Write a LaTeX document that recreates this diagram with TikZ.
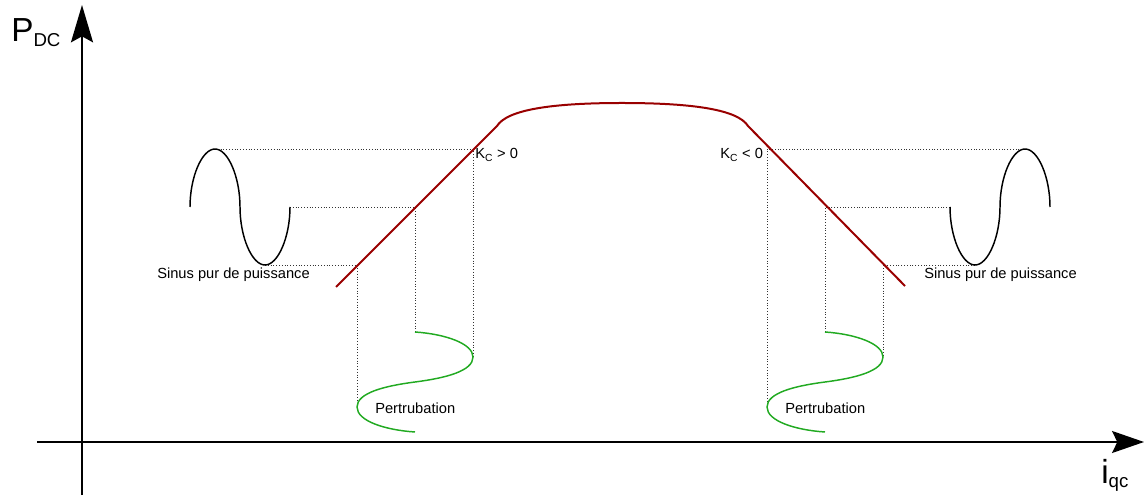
\documentclass[tikz,border=0pt]{standalone}
\usepackage{fontspec}
\setmainfont{Liberation Sans}
\usetikzlibrary{arrows.meta}
\definecolor{curvered}{RGB}{153,0,0}
\definecolor{pertgreen}{RGB}{34,170,34}
\tikzset{
  axisline/.style={line width=1.5pt, draw=black},
  sineline/.style={line width=1.1pt, draw=black},
  charline/.style={line width=1.5pt, draw=curvered},
  pertline/.style={line width=1.1pt, draw=pertgreen},
  guide/.style={line width=0.7pt, draw=black!80, dash pattern=on 0.7pt off 1.4pt},
  lbl/.style={inner sep=0pt, font=\fontsize{11}{13}\selectfont},
}
\begin{document}
\begin{tikzpicture}[x=0.75pt, y=-0.75pt]
\useasboundingbox (0,0) rectangle (1144,498);
% axes
\coordinate (ybot) at (82,495);
\coordinate (ytop) at (82,5);
\coordinate (xleft) at (37,442);
\coordinate (xright) at (1144,442);
\draw[axisline, -{Stealth[length=28pt, width=16.5pt, inset=4.5pt]}] (ybot) -- (ytop);
\draw[axisline, -{Stealth[length=24pt, width=16.5pt, inset=4pt]}] (xleft) -- (xright);
\node[inner sep=0pt, anchor=base west, font=\fontsize{25}{28}\selectfont] (pdc) at (11,42) {P\textsubscript{\fontsize{14}{16}\selectfont DC}};
\node[inner sep=0pt, anchor=base west, font=\fontsize{25}{28}\selectfont] (iqc) at (1101,483) {i\textsubscript{\fontsize{14}{16}\selectfont qc}};

% guide lines (left)
\coordinate (lpk) at (215,149);
\coordinate (lmid) at (290,207);
\coordinate (ltr) at (265,265);
\coordinate (la) at (473,149);
\coordinate (lb) at (415,207);
\coordinate (lc) at (357,265);
\coordinate (la2) at (473,357);
\coordinate (lb2) at (415,332);
\coordinate (lc2) at (357,407);
\draw[guide] (lpk) -- (la) -- (la2);
\draw[guide] (lmid) -- (lb) -- (lb2);
\draw[guide] (ltr) -- (lc) -- (lc2);
% guide lines (right)
\coordinate (rpk) at (1025,149);
\coordinate (rmid) at (950,207);
\coordinate (rtr) at (975,265);
\coordinate (ra) at (767,149);
\coordinate (rb) at (825,207);
\coordinate (rc) at (883,265);
\coordinate (ra2) at (767,407);
\coordinate (rb2) at (825,332);
\coordinate (rc2) at (883,357);
\draw[guide] (rpk) -- (ra) -- (ra2);
\draw[guide] (rmid) -- (rb) -- (rb2);
\draw[guide] (rtr) -- (rc) -- (rc2);

% sine waves
\draw[sineline] (190,207) .. controls (190,177) and (202,149) .. (lpk)
  .. controls (228,149) and (240,177) .. (240,207)
  .. controls (240,237) and (252,265) .. (ltr)
  .. controls (278,265) and (290,237) .. (lmid);
\draw[sineline] (rmid) .. controls (950,237) and (962,265) .. (rtr)
  .. controls (988,265) and (1000,237) .. (1000,207)
  .. controls (1000,177) and (1012,149) .. (rpk)
  .. controls (1038,149) and (1050,177) .. (1050,207);

% characteristic curve
\coordinate (c1) at (336,287);
\coordinate (c2) at (497,126);
\coordinate (c3) at (748,126);
\coordinate (c4) at (905,286);
\draw[charline, line join=round] (c1) -- (c2) .. controls (507,110) and (550,103) .. (622,103)
  .. controls (695,103) and (738,110) .. (c3) -- (c4);

% perturbations
\draw[pertline] (lb2) .. controls (445,334) and (473,343.5) .. (la2)
  .. controls (473,371) and (446,378) .. (415,382)
  .. controls (384,386) and (357,393) .. (lc2)
  .. controls (357,421) and (385,430) .. (415,432);
\draw[pertline] (rb2) .. controls (855,334) and (883,343.5) .. (rc2)
  .. controls (883,371) and (856,378) .. (825,382)
  .. controls (794,386) and (767,393) .. (ra2)
  .. controls (767,421) and (795,430) .. (825,432);

% labels
\node[lbl, anchor=base west] (sinl) at (157,279) {Sinus pur de puissance};
\node[lbl, anchor=base west] (sinr) at (924,279) {Sinus pur de puissance};
\node[lbl, anchor=base west] (pertl) at (375,413) {Pertrubation};
\node[lbl, anchor=base west] (pertr) at (785,413) {Pertrubation};
\node[lbl, anchor=base west] (kpos) at (475,159) {K\textsubscript{C} > 0};
\node[lbl, anchor=base west] (kneg) at (720,159) {K\textsubscript{C} < 0};
\end{tikzpicture}
\end{document}
